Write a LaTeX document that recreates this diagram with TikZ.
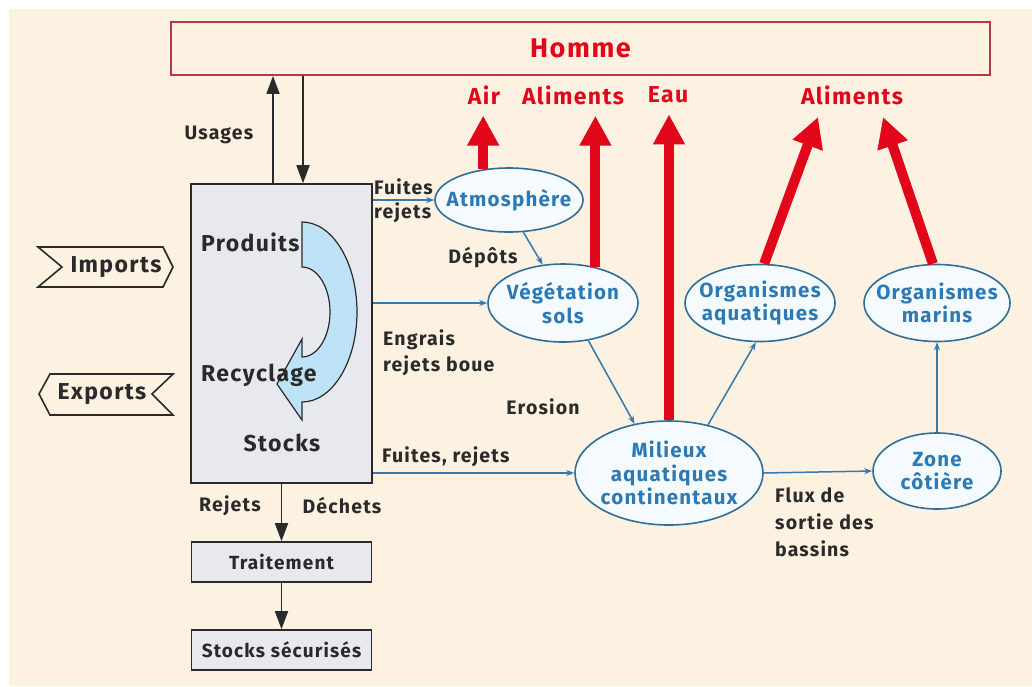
\documentclass[tikz,border=0pt]{standalone}
\usepackage{fontspec}
\setmainfont{Fira Sans}[LetterSpace=6.0]
\usetikzlibrary{arrows.meta,shapes.geometric,calc}
\definecolor{cream}{HTML}{FDF2E2}
\definecolor{hred}{HTML}{E2061B}
\definecolor{homline}{HTML}{B23A42}
\definecolor{ink}{HTML}{2A2A2A}
\definecolor{boxfill}{HTML}{E7E9EE}
\definecolor{ellline}{HTML}{2E6E99}
\definecolor{ellfill}{HTML}{F4FAFD}
\definecolor{txtblue}{HTML}{2C7AB5}
\definecolor{arrblue}{HTML}{3479B2}
\definecolor{recblue}{HTML}{BEE2F6}
\begin{document}
\begin{tikzpicture}[x=1pt,y=-1pt,
  lab/.style={text=ink, font=\bfseries\fontsize{19.5}{22}\selectfont, inner sep=1pt},
  biglab/.style={text=ink, font=\bfseries\fontsize{23}{25}\selectfont, inner sep=1pt},
  redlab/.style={text=hred, font=\bfseries\fontsize{23}{25}\selectfont, inner sep=1pt},
  ell/.style={ellipse, draw=ellline, line width=1.6pt, fill=ellfill, inner sep=0pt},
  elltxt/.style={text=txtblue, align=center, inner sep=0pt,
    font=\bfseries\fontsize{20.5}{23.5}\selectfont},
  graybox/.style={draw=ink, line width=1.6pt, fill=boxfill, text=ink,
    font=\bfseries\fontsize{19}{22}\selectfont},
  bluearr/.style={draw=arrblue, line width=1.5pt, -{Stealth[length=8pt,width=6pt]}},
  redarr/.style={draw=hred, line width=10pt, -{Triangle[length=30pt,width=30pt]}},
  blkarr/.style={draw=ink, line width=1.8pt, -{Triangle[length=18pt,width=13pt]}},
  tag/.style={draw=ink, line width=1.6pt, fill=cream}]
\useasboundingbox (0,0) rectangle (1032,686);
\fill[white] (0,0) rectangle (1032,686);
\fill[cream] (9,9) rectangle (1032,686);

% top bar
\node[draw=homline, line width=1.8pt, fill=cream, minimum width=819pt, minimum height=53pt,
  text=hred, font=\bfseries\fontsize{27}{29}\selectfont] (homme) at (580.5,48.5) {Homme};

% red resource labels
\node[redlab] (air) at (484,95) {Air};
\node[redlab] (alim1) at (573,95) {Aliments};
\node[redlab] (eau) at (668,95) {Eau};
\node[redlab] (alim2) at (852,95) {Aliments};

% main stock box
\node[graybox, minimum width=181pt, minimum height=299pt] (box) at (281.5,333.5) {};
\node[graybox, minimum width=180pt, minimum height=40pt] (trait) at (281.5,562) {Traitement};
\node[graybox, minimum width=180pt, minimum height=40pt] (secur) at (281.5,650) {Stocks sécurisés};

% recycling loop inside the box
\filldraw[fill=recblue, draw=ink, line width=1.2pt]
  (302,222) -- (302,267)
  .. controls (317.5,267) and (330,287.1) .. (330,312)
  .. controls (330,336.9) and (317.5,357) .. (302,357)
  -- (302,339) -- (277,384) -- (302,420) -- (302,402)
  .. controls (332.4,402) and (357,361.7) .. (357,312)
  .. controls (357,262.3) and (332.4,222) .. (302,222) -- cycle;
\node[biglab, anchor=west] (prod) at (200,242) {Produits};
\node[biglab, anchor=west] (recy) at (200,375) {Recyclage};
\node[biglab] (stk) at (282,443) {Stocks};

% imports / exports tags
\draw[tag] (38,247) -- (163,247) -- (173,267) -- (163,287) -- (38,287) -- (62,267) -- cycle;
\node[biglab] (imp) at (116,267) {Imports};
\draw[tag] (50,374) -- (173,374) -- (152,394) -- (173,415) -- (50,415) -- (39,394) -- cycle;
\node[biglab] (exp) at (102,394) {Exports};

% environment compartments
\node[ell, minimum width=148pt, minimum height=64pt] (atm) at (509,200) {};
\node[elltxt] (atmt) at (atm) {Atmosphère};
\node[ell, minimum width=150pt, minimum height=78pt] (veg) at (563,303) {};
\node[elltxt] (vegt) at (veg) {Végétation\\sols};
\node[ell, minimum width=150pt, minimum height=77pt] (orgaq) at (760,303) {};
\node[elltxt] (orgaqt) at (orgaq) {Organismes\\aquatiques};
\node[ell, minimum width=146pt, minimum height=77pt] (orgmar) at (937,303) {};
\node[elltxt] (orgmart) at (orgmar) {Organismes\\marins};
\node[ell, minimum width=188pt, minimum height=104pt] (mil) at (669,473) {};
\node[elltxt] (milt) at (mil) {Milieux\\aquatiques\\continentaux};
\node[ell, minimum width=128pt, minimum height=76pt] (zone) at (937,471) {};
\node[elltxt] (zonet) at (zone) {Zone\\côtière};

% uses
\draw[blkarr] ($(box.north)+(-8.5,0)$) -- ($(homme.south)+(-307.5,0)$);
\draw[blkarr] ($(homme.south)+(-277.5,0)$) -- ($(box.north)+(21.5,0)$);
\node[lab] (usa) at (219,135) {Usages};

% waste chain
\draw[blkarr] (box.south) -- (trait.north);
\draw[blkarr] (trait.south) -- (secur.north);
\node[lab] (rej) at (230,506) {Rejets};
\node[lab] (dech) at (342,506) {Déchets};

% releases to the environment
\draw[bluearr] (atm.west -| box.east) -- (atm.west);
\node[lab, anchor=west] (fuit1) at (373,187) {Fuites};
\node[lab, anchor=west] (rej1) at (373,213) {rejets};
\draw[bluearr] (veg.west -| box.east) -- (veg.west);
\node[lab, anchor=west] (engr) at (382,340) {Engrais};
\node[lab, anchor=west] (boue) at (382,366) {rejets boue};
\draw[bluearr] (mil.west -| box.east) -- (mil.west);
\node[lab, anchor=west] (fuit2) at (381,457) {Fuites, rejets};

% transfers between compartments
\draw[bluearr] (atm.-66) -- (veg.118);
\node[lab] (dep) at (483,258) {Dépôts};
\draw[bluearr] (veg.-56) -- (mil.125);
\node[lab] (ero) at (543,407) {Erosion};
\draw[bluearr] (mil.51) -- (orgaq.-96);
\draw[bluearr] (mil.east) -- (zone.west);
\draw[bluearr] (zone.north) -- (orgmar.south);
\node[lab, anchor=west] (flx1) at (774,495) {Flux de};
\node[lab, anchor=west] (flx2) at (774,522) {sortie des};
\node[lab, anchor=west] (flx3) at (774,549) {bassins};

% exposure of people
\coordinate (t1) at (818,117);
\coordinate (t2) at (883,117);
\draw[redarr] (atm.130) -- ($(atm.130 |- air.south)+(0,10)$);
\draw[redarr] (veg.48) -- ($(veg.48 |- alim1.south)+(0,10)$);
\draw[redarr] (mil.north) -- ($(mil.north |- eau.south)+(0,10)$);
\draw[redarr] (orgaq.84) -- (t1);
\draw[redarr] (orgmar.96) -- (t2);
\end{tikzpicture}
\end{document}
